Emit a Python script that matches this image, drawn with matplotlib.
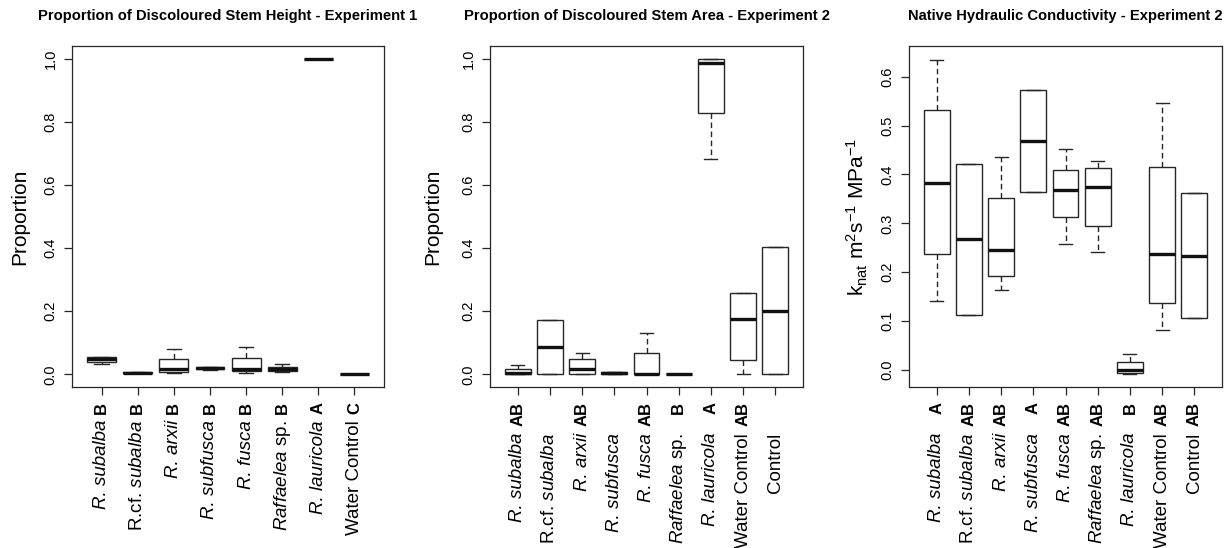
import matplotlib
matplotlib.use("Agg")
import matplotlib.pyplot as plt
import numpy as np

plt.rcParams['font.family'] = ['Liberation Sans', 'DejaVu Sans']
plt.rcParams['mathtext.fontset'] = 'custom'
plt.rcParams['mathtext.rm'] = 'Liberation Sans'
plt.rcParams['mathtext.it'] = 'Liberation Sans:italic'
plt.rcParams['mathtext.bf'] = 'Liberation Sans:bold'

# ---- data ----
names1 = ["R. subalba", r"R.cf. $\mathit{subalba}$", "R. arxii", "R. subfusca",
          "R. fusca", r"$\mathit{Raffaelea}$ sp.", "R. lauricola", "Water Control"]
italic1 = [True, False, True, True, True, False, True, False]
letters1 = ["B", "B", "B", "B", "B", "B", "A", "C"]
lo1 = [0.033, 0.004, 0.003, 0.015, 0.005, 0.006, 1.0, 0.0]
q1_1 = [0.040, 0.004, 0.008, 0.016, 0.012, 0.010, 1.0, 0.0]
med1 = [0.048, 0.005, 0.018, 0.020, 0.018, 0.016, 1.0, 0.0]
q3_1 = [0.054, 0.006, 0.049, 0.024, 0.052, 0.024, 1.0, 0.0]
hi1 = [0.054, 0.006, 0.081, 0.024, 0.088, 0.032, 1.0, 0.0]

names2 = names1 + ["Control"]
italic2 = italic1 + [False]
letters2 = ["AB", "", "AB", "", "AB", "B", "A", "AB", ""]
lo2 = [0.0, 0.0, 0.0, 0.0, 0.0, 0.0, 0.682, 0.0, 0.0]
q1_2 = [0.0, 0.0, 0.0, 0.001, 0.0, 0.0, 0.827, 0.044, 0.0]
med2 = [0.004, 0.087, 0.018, 0.004, 0.001, 0.001, 0.987, 0.174, 0.201]
q3_2 = [0.017, 0.172, 0.050, 0.007, 0.067, 0.002, 1.0, 0.259, 0.404]
hi2 = [0.029, 0.172, 0.068, 0.007, 0.132, 0.002, 1.0, 0.259, 0.404]

names3 = names2
italic3 = italic2
letters3 = ["A", "AB", "AB", "A", "AB", "AB", "B", "AB", "AB"]
lo3 = [0.141, 0.113, 0.163, 0.364, 0.258, 0.241, -0.008, 0.082, 0.106]
q1_3 = [0.238, 0.113, 0.192, 0.364, 0.312, 0.294, -0.006, 0.136, 0.106]
med3 = [0.382, 0.267, 0.246, 0.469, 0.368, 0.375, 0.0, 0.237, 0.234]
q3_3 = [0.532, 0.422, 0.352, 0.572, 0.410, 0.414, 0.017, 0.415, 0.363]
hi3 = [0.635, 0.422, 0.436, 0.572, 0.452, 0.427, 0.033, 0.546, 0.363]

titles = ["Proportion of Discoloured Stem Height - Experiment 1",
          "Proportion of Discoloured Stem Area - Experiment 2",
          "Native Hydraulic Conductivity - Experiment 2"]
ylabels = ["Proportion", "Proportion", r"k$_{\mathrm{nat}}$ m$^{2}$s$^{-1}$ MPa$^{-1}$"]

LINE = '#262626'

fig = plt.figure(figsize=(12.31, 5.48), dpi=100)
W, H = 1231, 548
# axes boxes in pixels: left, right, top, bottom
boxes_px = [(72, 384, 46, 387), (490, 803, 46, 387), (909, 1222, 46, 387)]

panels = [
    (names1, italic1, letters1, lo1, q1_1, med1, q3_1, hi1, (-0.04, 1.04), np.arange(0, 1.01, 0.2), -0.167, 420),
    (names2, italic2, letters2, lo2, q1_2, med2, q3_2, hi2, (-0.04, 1.04), np.arange(0, 1.01, 0.2), -0.182, 433),
    (names3, italic3, letters3, lo3, q1_3, med3, q3_3, hi3, (-0.035, 0.663), np.arange(0, 0.61, 0.1), -0.166, 433),
]

for i, (names, italic, letters, lo, q1, med, q3, hi, ylim, yt, ylx, name_top) in enumerate(panels):
    l, r, t, b = boxes_px[i]
    ax = fig.add_axes([l / W, 1 - b / H, (r - l) / W, (b - t) / H])
    n = len(names)
    stats = []
    for k in range(n):
        stats.append(dict(med=med[k], q1=q1[k], q3=q3[k], whislo=lo[k], whishi=hi[k], fliers=[]))
    ax.bxp(stats, positions=np.arange(1, n + 1), widths=0.8, capwidths=0.4,
           showfliers=False, patch_artist=True,
           boxprops=dict(facecolor='white', edgecolor=LINE, linewidth=1.0),
           medianprops=dict(color='#111111', linewidth=2.4, solid_capstyle='butt'),
           whiskerprops=dict(color=LINE, linewidth=1.0, linestyle=(0, (4, 2.5))),
           capprops=dict(color=LINE, linewidth=1.0))
    ax.set_xlim(0.5 - 0.04 * n, n + 0.5 + 0.04 * n)
    ax.set_ylim(*ylim)
    ax.set_yticks(yt)
    ax.set_yticklabels([f"{v:.1f}" for v in yt], fontsize=10.5)
    for lab in ax.get_yticklabels():
        lab.set_rotation(90)
        lab.set_va('center')
    ax.set_xticks(np.arange(1, n + 1))
    ax.set_xticklabels([''] * n)
    ax.tick_params(direction='out', length=5.5, width=0.9, color=LINE, pad=5)
    for s in ax.spines.values():
        s.set_color(LINE)
        s.set_linewidth(0.9)

    # x labels: bold group letters, then species names
    tr = ax.get_xaxis_transform()
    for k in range(n):
        ax.text(k + 1, (b - 402) / (b - t), letters[k], transform=tr,
                rotation=90, ha='center', va='top', fontsize=12, fontweight='bold')
        ax.text(k + 1, (b - name_top) / (b - t), names[k], transform=tr,
                rotation=90, ha='center', va='top', fontsize=13.5,
                fontstyle='italic' if italic[k] else 'normal')

    ax.text(ylx, 0.5, ylabels[i], transform=ax.transAxes, rotation=90,
            ha='center', va='center', fontsize=15)
    ax.set_title(titles[i], fontsize=10.6, fontweight='bold', pad=18.5)

fig.savefig("out.png", dpi=100)
